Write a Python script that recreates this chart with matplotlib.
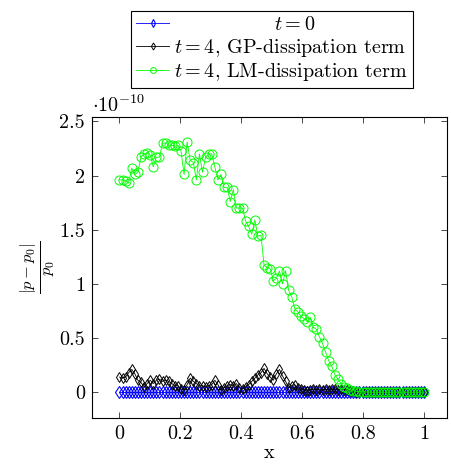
import numpy as np
import matplotlib
matplotlib.use("Agg")
import matplotlib.pyplot as plt

plt.rcParams['font.family'] = ['cmr10', 'DejaVu Serif']
plt.rcParams['mathtext.fontset'] = 'cm'
plt.rcParams['axes.unicode_minus'] = False
plt.rcParams['axes.formatter.use_mathtext'] = True

# grid of 100 cells on [0, 1]
x = np.linspace(0, 1, 100)

# relative pressure error, in units of 1e-10
err_t0 = [0.0] * 100

err_gp = [0.14, 0.13, 0.14, 0.18, 0.21, 0.17, 0.11, 0.09, 0.05, 0.08,
          0.11, 0.08, 0.11, 0.12, 0.10, 0.11, 0.10, 0.08, 0.06, 0.06,
          0.03, 0.02, 0.07, 0.13, 0.10, 0.08, 0.06, 0.06, 0.05, 0.06,
          0.07, 0.11, 0.07, 0.02, 0.04, 0.06, 0.07, 0.06, 0.08, 0.04,
          0.03, 0.05, 0.07, 0.10, 0.13, 0.16, 0.18, 0.22, 0.17, 0.14,
          0.11, 0.17, 0.21, 0.15, 0.10, 0.04, 0.06, 0.07, 0.04, 0.03,
          0.02, 0.01, 0.02, 0.03, 0.02, 0.03, 0.02, 0.03, 0.02, 0.03,
          0.03, 0.02, 0.03, 0.02, 0.02, 0.01, 0.01, 0.005, 0.003, 0.002,
          0.001, 0.0, 0.0, 0.0, 0.0, 0.0, 0.0, 0.0, 0.0, 0.0,
          0.0, 0.0, 0.0, 0.0, 0.0, 0.0, 0.0, 0.0, 0.0, 0.0]

err_lm = [1.96, 1.96, 1.95, 1.93, 2.07, 2.01, 2.03, 2.17, 2.20, 2.21,
          2.19, 2.08, 2.17, 2.17, 2.30, 2.30, 2.28, 2.28, 2.27, 2.28,
          2.23, 2.01, 2.31, 2.14, 2.12, 1.96, 2.20, 2.03, 2.17, 2.20,
          2.20, 2.08, 1.96, 2.01, 1.89, 1.89, 1.76, 1.87, 1.70, 1.70,
          1.70, 1.58, 1.53, 1.46, 1.59, 1.44, 1.45, 1.17, 1.15, 1.14,
          1.03, 1.05, 1.12, 1.00, 1.12, 0.94, 0.88, 0.77, 0.74, 0.70,
          0.68, 0.65, 0.69, 0.60, 0.58, 0.51, 0.45, 0.37, 0.29, 0.24,
          0.16, 0.12, 0.08, 0.05, 0.035, 0.02, 0.012, 0.008, 0.005, 0.003,
          0.002, 0.001, 0.0, 0.0, 0.0, 0.0, 0.0, 0.0, 0.0, 0.0,
          0.0, 0.0, 0.0, 0.0, 0.0, 0.0, 0.0, 0.0, 0.0, 0.0]

fig = plt.figure(figsize=(4.51, 4.72), dpi=100)
ax = fig.add_axes([0.204, 0.114, 0.787, 0.638])

l0, = ax.plot(x, err_t0, color=(0, 0, 1), lw=0.6, marker='d', ms=6,
              mfc='none', mew=0.8)
l1, = ax.plot(x, err_gp, color='black', lw=0.6, marker='d', ms=5.5,
              mfc='none', mew=0.7)
l2, = ax.plot(x, err_lm, color=(0, 1, 0), lw=0.6, marker='o', ms=6.5,
              mfc='none', mew=0.7)

ax.set_xlim(-0.09, 1.075)
ax.set_ylim(-0.24, 2.54)
ax.set_xticks([0, 0.2, 0.4, 0.6, 0.8, 1])
ax.set_xticklabels(['0', '0.2', '0.4', '0.6', '0.8', '1'])
ax.set_yticks([0, 0.5, 1, 1.5, 2, 2.5])
ax.set_yticklabels(['0', '0.5', '1', '1.5', '2', '2.5'])
ax.tick_params(direction='in', top=True, right=True, length=4.2,
               width=0.5, labelsize=14.5, pad=5)
for s in ax.spines.values():
    s.set_linewidth(0.8)

ax.text(0.0, 1.005, r'$\cdot 10^{-10}$', transform=ax.transAxes,
        fontsize=14.5, ha='left', va='bottom')
ax.set_xlabel('x', fontsize=14.5, labelpad=1)
ax.set_ylabel(r'$\frac{|p-p_0|}{p_0}$', fontsize=17, labelpad=2)

leg = fig.legend([l0, l1, l2],
                 [r'$\qquad\qquad\quad\ \ t = 0$',
                  r'$t = 4$, GP-dissipation term',
                  r'$t = 4$, LM-dissipation term'],
                 loc='upper center', bbox_to_anchor=(0.603, 0.998),
                 fontsize=14.5, handlelength=1.6, handletextpad=0.25,
                 borderpad=0.25, labelspacing=0.12, markerscale=0.65,
                 fancybox=False, edgecolor='black', framealpha=1)
leg.get_frame().set_linewidth(0.8)

fig.savefig('out.png', dpi=100)
